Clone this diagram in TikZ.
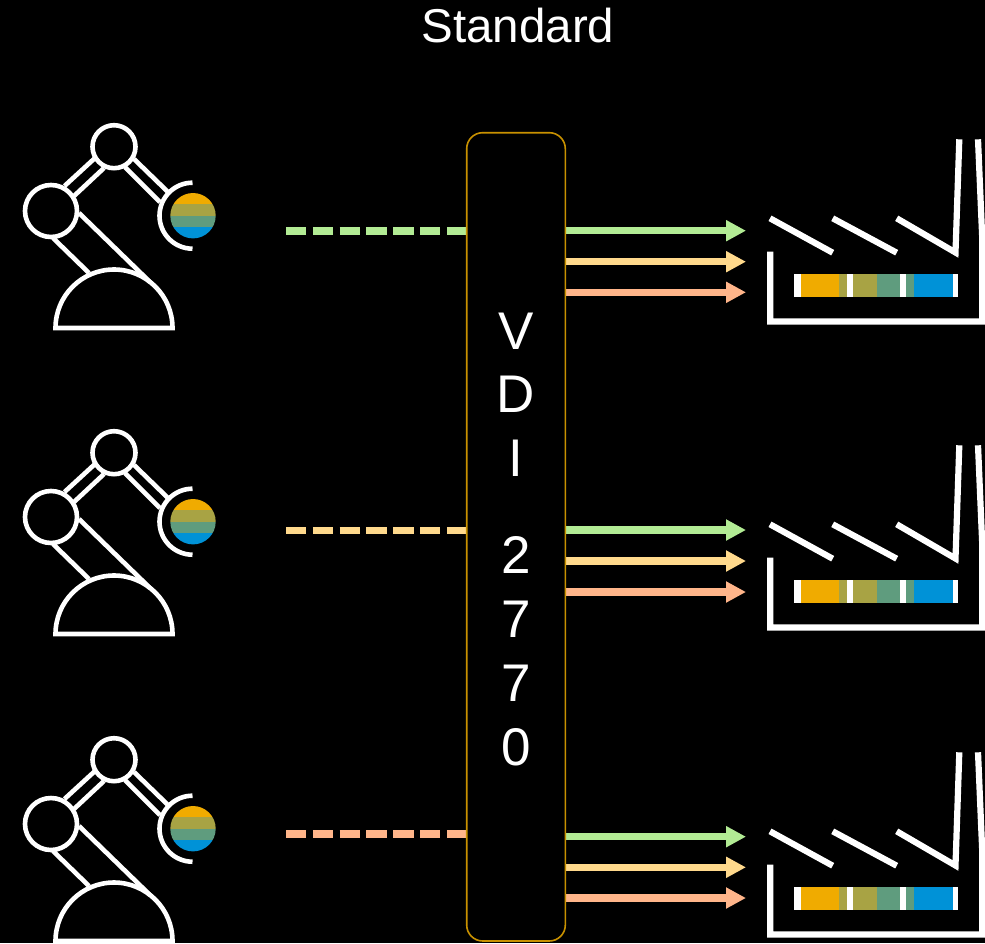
\documentclass[tikz,border=0pt]{standalone}
\usepackage{fontspec}
\setmainfont{Liberation Sans}
\usetikzlibrary{arrows.meta}
\definecolor{cgreen}{RGB}{178,235,148}
\definecolor{cyellow}{RGB}{255,217,140}
\definecolor{corange}{RGB}{255,181,138}
\definecolor{boxline}{RGB}{200,145,0}
\definecolor{bandA}{RGB}{240,171,0}
\definecolor{bandB}{RGB}{168,163,68}
\definecolor{bandC}{RGB}{95,156,126}
\definecolor{bandD}{RGB}{0,146,215}
\pgfdeclarelayer{bg}
\pgfsetlayers{bg,main}
\tikzset{
  iconline/.style={draw=white,line width=4.6pt},
  factline/.style={draw=white,line width=6.2pt,miter limit=20},
  outflow/.style={line width=7.4pt,-{Triangle[length=20pt,width=20pt]}},
  inflow/.style={line width=7.4pt,dash pattern=on 20.3pt off 6.5pt},
  bigtext/.style={text=white,anchor=base,inner sep=0pt,font=\fontsize{53}{64}\selectfont},
  robot/.pic={
    \draw[iconline] (64.5,186) -- (95,158);
    \draw[iconline] (74,196) -- (104,168);
    \draw[iconline] (134,159) -- (168,192);
    \draw[iconline] (125,167) -- (160,202);
    \draw[iconline] (53,238) -- (89,273);
    \draw[iconline] (79,213) -- (150,282);
    \draw[iconline] (114,146.7) circle[radius=21.5pt];
    \draw[iconline] (51,211) circle[radius=26pt];
    \draw[iconline] (55.5,328) .. controls (55.5,295.7) and (81.7,269.5) .. (114,269.5)
      .. controls (146.3,269.5) and (172.5,295.7) .. (172.5,328) -- cycle;
    \draw[iconline] (192.5,182.7) .. controls (174.3,182.7) and (159.5,197.5) .. (159.5,215.7)
      .. controls (159.5,233.9) and (174.3,248.7) .. (192.5,248.7);
    \begin{scope}
      \clip (193,215.7) circle[radius=22.7pt];
      \fill[bandA] (168,193) rectangle (218,204.3);
      \fill[bandB] (168,204.3) rectangle (218,215.7);
      \fill[bandC] (168,215.7) rectangle (218,227);
      \fill[bandD] (168,227) rectangle (218,239);
    \end{scope}
  },
  factory/.pic={
    \draw[factline] (770,218.3) -- (832.7,252.7);
    \draw[factline] (832.7,218.3) -- (896.7,252.7);
    \draw[factline] (896.7,218.3) -- (955.5,252.5) -- (959.3,139.3);
    \draw[factline] (770.3,251.7) -- (770.3,321.5) -- (982.3,321.5) -- (982.3,240) -- (978,139.3);
    \fill[white] (794.3,274.3) rectangle (958.3,297.3);
    \fill[bandA] (800.7,274.3) rectangle (838.7,297.3);
    \fill[bandB] (838.7,274.3) rectangle (847,297.3);
    \fill[bandB] (853.3,274.3) rectangle (876.7,297.3);
    \fill[bandC] (876.7,274.3) rectangle (900,297.3);
    \fill[bandC] (905.7,274.3) rectangle (914.3,297.3);
    \fill[bandD] (914.3,274.3) rectangle (952.7,297.3);
  }
}
\begin{document}
\begin{tikzpicture}[x=1pt,y=-1pt]
\useasboundingbox (0,0) rectangle (985,943);
\begin{pgfonlayer}{bg}
  \fill[black] (0,0) rectangle (985,943);
\end{pgfonlayer}

\node[text=white,anchor=base,inner sep=0pt,font=\fontsize{47.5}{56}\selectfont] (title) at (518,42) {Standard};

\node[draw=boxline,fill=black,line width=1.6pt,rounded corners=16pt,outer sep=0pt,inner sep=0pt,
      minimum width=98.6pt,minimum height=808.3pt] (vdi) at (516,536.85) {};

\node[bigtext] (cV) at (516,349) {V};
\node[bigtext] (cD) at (516,412.5) {D};
\node[bigtext] (cI) at (516,476.5) {I};
\node[bigtext] (c2) at (516,573.3) {2};
\node[bigtext] (c7a) at (516,637.3) {7};
\node[bigtext] (c7b) at (516,701.3) {7};
\node[bigtext] (c0) at (516,765) {0};

\pic at (0,0) {robot};
\pic at (0,306) {robot};
\pic at (0,613) {robot};
\pic at (0,0) {factory};
\pic at (0,306) {factory};
\pic at (0,613) {factory};

% free ends of the connectors
\coordinate (inA) at (286,231);
\coordinate (inB) at (286,530.3);
\coordinate (inC) at (286,834);
\coordinate (a1) at (746,230.7);
\coordinate (a2) at (746,261.7);
\coordinate (a3) at (746,292.3);
\coordinate (b1) at (746,530);
\coordinate (b2) at (746,561);
\coordinate (b3) at (746,592);
\coordinate (c1) at (746,836.7);
\coordinate (c2p) at (746,867.3);
\coordinate (c3) at (746,898);

\begin{pgfonlayer}{bg}
  \draw[inflow,draw=cgreen] (inA) -- (inA -| vdi.west);
  \draw[inflow,draw=cyellow] (inB) -- (inB -| vdi.west);
  \draw[inflow,draw=corange] (inC) -- (inC -| vdi.west);
  \draw[outflow,draw=cgreen] (a1 -| vdi.east) -- (a1);
  \draw[outflow,draw=cyellow] (a2 -| vdi.east) -- (a2);
  \draw[outflow,draw=corange] (a3 -| vdi.east) -- (a3);
  \draw[outflow,draw=cgreen] (b1 -| vdi.east) -- (b1);
  \draw[outflow,draw=cyellow] (b2 -| vdi.east) -- (b2);
  \draw[outflow,draw=corange] (b3 -| vdi.east) -- (b3);
  \draw[outflow,draw=cgreen] (c1 -| vdi.east) -- (c1);
  \draw[outflow,draw=cyellow] (c2p -| vdi.east) -- (c2p);
  \draw[outflow,draw=corange] (c3 -| vdi.east) -- (c3);
\end{pgfonlayer}
\end{tikzpicture}
\end{document}
